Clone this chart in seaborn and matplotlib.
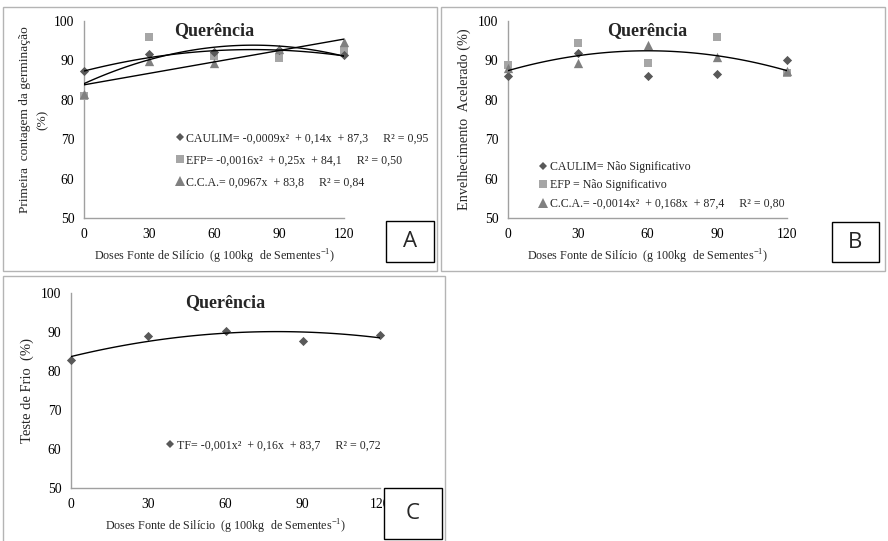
import numpy as np
import pandas as pd
import matplotlib
matplotlib.use("Agg")
import matplotlib.pyplot as plt
import seaborn as sns
from matplotlib.lines import Line2D
from matplotlib.patches import Rectangle

# ---------------- data ----------------
doses = [0, 30, 60, 90, 120]
x_ticks = [0, 30, 60, 90, 120]
y_ticks = [50, 60, 70, 80, 90, 100]

# Panel A - Primeira contagem da germinação
a_caulim = [87.2, 91.7, 92.2, 92.6, 91.3]
a_efp = [81.0, 96.0, 91.2, 90.7, 92.6]
a_cca = [81.5, 89.9, 89.4, 93.0, 94.7]
a_caulim_fit = [-0.0009, 0.14, 87.3]
a_efp_fit = [-0.0016, 0.25, 84.1]
a_cca_fit = [0.0, 0.0967, 83.8]

# Panel B - Envelhecimento acelerado
b_caulim = [86.0, 91.8, 86.0, 86.6, 90.0]
b_efp = [88.8, 94.4, 89.3, 96.0, 86.9]
b_cca = [88.0, 89.4, 93.8, 90.9, 87.3]
b_cca_fit = [-0.0014, 0.168, 87.4]

# Panel C - Teste de frio
c_tf = [82.8, 88.9, 90.3, 87.6, 89.2]
c_tf_fit = [-0.001, 0.16, 83.7]

title = "Querência"
xlabel = "Doses Fonte de Silício  (g 100kg  de Sementes$^{\\mathregular{-1}}$)"

a_labels = ["CAULIM= -0,0009x²  + 0,14x  + 87,3     R² = 0,95",
            "EFP= -0,0016x²  + 0,25x  + 84,1     R² = 0,50",
            "C.C.A.= 0,0967x  + 83,8     R² = 0,84"]
b_labels = ["CAULIM= Não Significativo",
            "EFP = Não Significativo",
            "C.C.A.= -0,0014x²  + 0,168x  + 87,4     R² = 0,80"]
c_labels = ["TF= -0,001x²  + 0,16x  + 83,7     R² = 0,72"]

# ---------------- style ----------------
sns.set_style("white")
plt.rcParams["font.family"] = ["Liberation Serif", "DejaVu Serif"]
plt.rcParams["mathtext.fontset"] = "custom"
plt.rcParams["mathtext.rm"] = "Liberation Serif"

C_CAULIM = "#595959"
C_EFP = "#a6a6a6"
C_CCA = "#808080"
SPINE = "#a0a0a0"
BORDER = "#b4b4b4"

W, H = 888, 541
fig = plt.figure(figsize=(W / 100, H / 100), dpi=100)


def px_axes(x0, x1, ytop, ybot):
    return fig.add_axes([x0 / W, 1 - ybot / H, (x1 - x0) / W, (ybot - ytop) / H])


def style_axes(ax, ylabel, ysize, ypad):
    ax.set_xlim(0, 120)
    ax.set_ylim(50, 100)
    ax.set_xticks(x_ticks)
    ax.set_yticks(y_ticks)
    for s in ["top", "right"]:
        ax.spines[s].set_visible(False)
    for s in ["left", "bottom"]:
        ax.spines[s].set_color(SPINE)
        ax.spines[s].set_linewidth(1.0)
    ax.tick_params(axis="both", which="both", direction="out", length=3,
                   width=1, color=SPINE, labelsize=9.8, pad=4, labelcolor="black")
    ax.set_ylabel(ylabel, fontsize=ysize, labelpad=ypad, linespacing=1.6)
    ax.set_xlabel(xlabel, fontsize=8.7, labelpad=5)
    ax.set_title(title, fontsize=13, fontweight="bold", y=0.93, pad=0)
    ax.set_facecolor("none")


def fit_curve(coefs):
    xs = np.linspace(0, 120, 121)
    return pd.DataFrame({"x": xs, "y": np.polyval(coefs, xs)})


def scatter(ax, ys, marker, color, size):
    df = pd.DataFrame({"x": doses, "y": ys})
    sns.scatterplot(data=df, x="x", y="y", ax=ax, marker=marker, color=color,
                    s=size, edgecolor=color, linewidth=0, clip_on=False, zorder=3)


def curve(ax, coefs):
    sns.lineplot(data=fit_curve(coefs), x="x", y="y", ax=ax, color="black",
                 linewidth=1.0, zorder=4)


def handles(specs):
    return [Line2D([], [], linestyle="none", marker=m, color=c, markersize=ms,
                   markeredgewidth=0) for m, c, ms in specs]


# panel borders (figure level)
for (x0, y0, x1, y1) in [(3, 7, 437, 271), (441, 7, 885, 271), (3, 276, 445, 545)]:
    fig.add_artist(Rectangle((x0 / W, 1 - y1 / H), (x1 - x0) / W, (y1 - y0) / H,
                             transform=fig.transFigure, fill=False,
                             edgecolor=BORDER, linewidth=1.0))

# ---------------- Panel A ----------------
axA = px_axes(84, 344, 21, 218)
scatter(axA, a_efp, "s", C_EFP, 40)
scatter(axA, a_caulim, "D", C_CAULIM, 22)
scatter(axA, a_cca, "^", C_CCA, 45)
curve(axA, a_caulim_fit)
curve(axA, a_efp_fit)
curve(axA, a_cca_fit)
style_axes(axA, "Primeira  contagem da germinação\n(%)", 9.6, 4)
axA.legend(handles([("D", C_CAULIM, 4.5), ("s", C_EFP, 6), ("^", C_CCA, 6.5)]),
           a_labels, loc="upper left", bbox_to_anchor=(0.35, 0.435),
           frameon=False, fontsize=8.6, handlelength=0.8, handletextpad=0.15,
           labelspacing=0.85, borderpad=0, borderaxespad=0)

# ---------------- Panel B ----------------
axB = px_axes(508, 787, 21, 218)
scatter(axB, b_caulim, "D", C_CAULIM, 22)
scatter(axB, b_efp, "s", C_EFP, 40)
scatter(axB, b_cca, "^", C_CCA, 45)
curve(axB, b_cca_fit)
style_axes(axB, "Envelhecimento  Acelerado (%)", 10.3, 5)
axB.legend(handles([("D", C_CAULIM, 4.5), ("s", C_EFP, 6), ("^", C_CCA, 6.5)]),
           b_labels, loc="upper left", bbox_to_anchor=(0.11, 0.29),
           frameon=False, fontsize=8.6, handlelength=0.8, handletextpad=0.15,
           labelspacing=0.55, borderpad=0, borderaxespad=0)

# ---------------- Panel C ----------------
axC = px_axes(71, 380, 293, 488)
scatter(axC, c_tf, "D", C_CAULIM, 22)
curve(axC, c_tf_fit)
style_axes(axC, "Teste de Frio  (%)", 10.5, 5)
axC.legend(handles([("D", C_CAULIM, 4.5)]), c_labels, loc="upper left",
           bbox_to_anchor=(0.305, 0.25), frameon=False, fontsize=8.6,
           handlelength=0.8, handletextpad=0.15, borderpad=0, borderaxespad=0)

# ---------------- panel letter boxes ----------------
for letter, (x0, y0, x1, y1) in [("A", (386, 221, 434, 262)),
                                 ("B", (832, 222, 879, 262)),
                                 ("C", (384, 488, 442, 539))]:
    fig.add_artist(Rectangle((x0 / W, 1 - y1 / H), (x1 - x0) / W, (y1 - y0) / H,
                             transform=fig.transFigure, facecolor="white",
                             edgecolor="black", linewidth=1.0, zorder=5))
    fig.text((x0 + x1) / 2 / W, 1 - (y0 + y1) / 2 / H, letter, ha="center",
             va="center", fontsize=16, family=["Open Sans", "DejaVu Sans"],
             zorder=6)

fig.savefig("out.png", dpi=100)
